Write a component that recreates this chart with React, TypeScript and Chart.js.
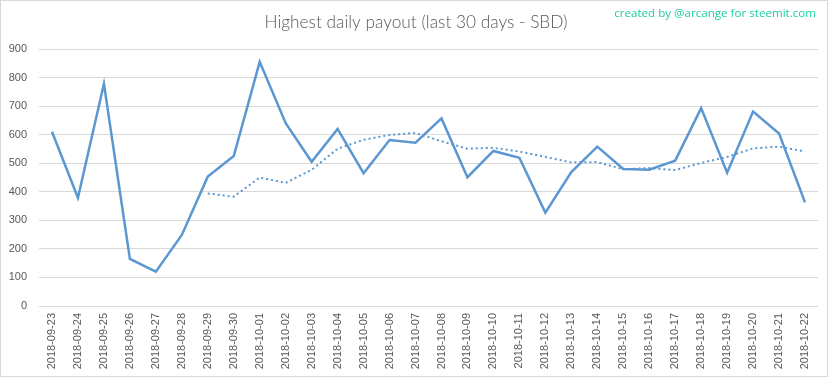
import React, { useEffect, useRef } from "react";
import { Chart, registerables } from "chart.js";

Chart.register(...registerables);

const categories: string[] = [
  "2018-09-23", "2018-09-24", "2018-09-25", "2018-09-26", "2018-09-27", "2018-09-28",
  "2018-09-29", "2018-09-30", "2018-10-01", "2018-10-02", "2018-10-03", "2018-10-04",
  "2018-10-05", "2018-10-06", "2018-10-07", "2018-10-08", "2018-10-09", "2018-10-10",
  "2018-10-11", "2018-10-12", "2018-10-13", "2018-10-14", "2018-10-15", "2018-10-16",
  "2018-10-17", "2018-10-18", "2018-10-19", "2018-10-20", "2018-10-21", "2018-10-22",
];

const payout: number[] = [
  610, 379, 778, 165, 120, 249, 453, 525, 855, 640, 505, 620, 465, 581, 572,
  657, 451, 543, 519, 327, 469, 558, 480, 477, 509, 693, 467, 681, 604, 363,
];

const movingAvg: (number | null)[] = [
  null, null, null, null, null, null, 394, 383, 450, 431, 477, 551, 582, 599, 606,
  577, 551, 554, 541, 522, 503, 504, 479, 483, 476, 501, 522, 552, 558, 541,
];

const yTicks: number[] = [0, 100, 200, 300, 400, 500, 600, 700, 800, 900];

const TITLE = "Highest daily payout (last 30 days - SBD)";
const CREDIT = "created by @arcange for steemit.com";

export default function App() {
  const canvasRef = useRef<HTMLCanvasElement | null>(null);

  useEffect(() => {
    const canvas = canvasRef.current;
    if (!canvas) return;

    const textPlugin = {
      id: "textPlugin",
      afterDraw(chart: any) {
        const ctx = chart.ctx;
        ctx.save();
        ctx.textBaseline = "middle";
        ctx.textAlign = "center";
        ctx.fillStyle = "#595959";
        ctx.font = "300 17.3px Lato";
        ctx.fillText(TITLE, 416, 22);
        ctx.textAlign = "right";
        ctx.fillStyle = "#1DCFA3";
        ctx.font = "11.6px 'Open Sans'";
        ctx.fillText(CREDIT, 816, 14);
        ctx.restore();
      },
    };

    const chart = new Chart(canvas, {
      type: "line",
      data: {
        labels: categories,
        datasets: [
          {
            label: "Highest payout",
            data: payout,
            borderColor: "#5B97D1",
            borderWidth: 2.5,
            pointRadius: 0,
            tension: 0,
            fill: false,
          },
          {
            label: "7 per. Mov. Avg.",
            data: movingAvg,
            borderColor: "#5B97D1",
            borderWidth: 2,
            borderDash: [2, 3],
            pointRadius: 0,
            tension: 0,
            fill: false,
            spanGaps: false,
          },
        ],
      },
      options: {
        animation: false,
        responsive: true,
        maintainAspectRatio: false,
        layout: { padding: { left: 0, right: 15, top: 49, bottom: 0 } },
        plugins: {
          legend: { display: false },
          title: { display: false },
          tooltip: { enabled: false },
        },
        scales: {
          x: {
            offset: true,
            grid: { display: false, drawTicks: false },
            border: { display: false },
            ticks: {
              autoSkip: false,
              minRotation: 90,
              maxRotation: 90,
              padding: 7,
              color: "#595959",
              font: { family: "'Liberation Sans'", size: 11 },
            },
            afterFit: (s: any) => {
              s.height = 73;
            },
          },
          y: {
            min: 0,
            max: 900,
            afterBuildTicks: (s: any) => {
              s.ticks = yTicks.map((v) => ({ value: v }));
            },
            grid: { color: "#D9D9D9", lineWidth: 1, drawTicks: false },
            border: { display: false },
            ticks: {
              padding: 12,
              color: "#595959",
              font: { family: "'Liberation Sans'", size: 11 },
            },
            afterFit: (s: any) => {
              s.width = 39;
            },
          },
        },
      },
      plugins: [textPlugin],
    });

    return () => chart.destroy();
  }, []);

  return (
    <div
      style={{
        position: "fixed",
        left: 0,
        top: 0,
        width: 833,
        height: 379,
        background: "#fff",
      }}
    >
      <div
        style={{
          position: "absolute",
          left: 0,
          top: 0,
          width: 828,
          height: 377,
          border: "1px solid #D9D9D9",
          boxSizing: "border-box",
        }}
      />
      <div style={{ position: "absolute", left: 0, top: 0, width: 833, height: 379 }}>
        <canvas ref={canvasRef} />
      </div>
    </div>
  );
}
